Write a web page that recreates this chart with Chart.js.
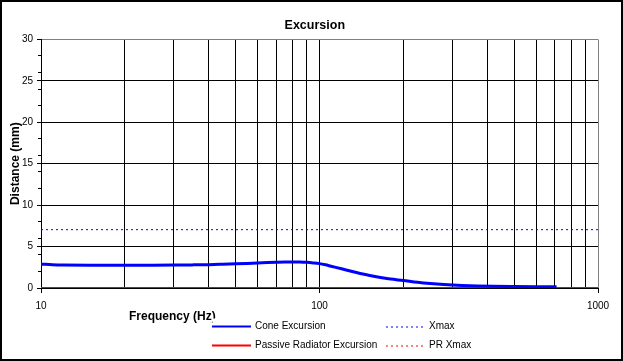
<!DOCTYPE html>
<html>
<head>
<meta charset="utf-8">
<script src="https://cdn.jsdelivr.net/npm/chart.js@4/dist/chart.umd.min.js"></script>
<style>
  body { margin: 0; background: #fff; }
  canvas { display: block; }
</style>
</head>
<body>
<canvas id="Excursion-graphic" width="623" height="361"></canvas>
<script>
// data
const coneFreq = [10, 11, 12, 15, 20, 25, 30, 35, 40, 45, 50, 55, 60, 65, 70, 75, 80, 85, 90, 95,
                  100, 105, 110, 120, 130, 140, 150, 160, 170, 180, 200, 225, 250, 280, 325, 370, 420, 500, 600, 710];
const coneMm = [2.88, 2.8, 2.77, 2.76, 2.76, 2.76, 2.77, 2.79, 2.82, 2.87, 2.92, 2.97, 3.02, 3.07, 3.11, 3.14, 3.15, 3.14, 3.1, 3.03,
                2.94, 2.8, 2.63, 2.32, 2.02, 1.76, 1.55, 1.36, 1.2, 1.08, 0.9, 0.68, 0.53, 0.41, 0.3, 0.24, 0.2, 0.17, 0.15, 0.14];
const prFreq = [10, 1000];
const prMm = [0, 0];
const xmaxFreq = [10, 1000];
const xmaxMm = [7.04, 7.04];
const prXmaxFreq = [10, 1000];
const prXmaxMm = [0, 0];

const xGridTicks = [10, 20, 30, 40, 50, 60, 70, 80, 90, 100, 200, 300, 400, 500, 600, 700, 800, 900, 1000];
const xTickLabels = [10, 100, 1000];

const toPoints = (xs, ys) => xs.map((x, i) => ({ x: x, y: ys[i] }));

Chart.defaults.font.family = '"Liberation Sans", Arial, sans-serif';
Chart.defaults.color = '#000';

// frame, x axis title and the two-column legend
const extras = {
  id: 'extras',
  afterDraw(chart) {
    const ctx = chart.ctx;
    ctx.save();
    ctx.font = 'bold 12px "Liberation Sans", Arial, sans-serif';
    ctx.fillStyle = '#000';
    ctx.textAlign = 'left';
    ctx.textBaseline = 'middle';
    ctx.fillText('Frequency (Hz)', 129, 316.5);

    // legend box covers the end of the title, like the original
    ctx.fillStyle = '#fff';
    ctx.fillRect(212.5, 318.5, 330, 37);

    const cols = [212, 386];
    const rows = [326.5, 345.5];
    ctx.font = '10px "Liberation Sans", Arial, sans-serif';
    chart.data.datasets.forEach((ds, i) => {
      const x = cols[Math.floor(i / 2)];
      const y = rows[i % 2];
      ctx.beginPath();
      ctx.strokeStyle = ds.borderColor;
      ctx.lineWidth = ds.borderDash ? 1 : 2;
      ctx.setLineDash(ds.borderDash || []);
      ctx.moveTo(x, ds.borderDash ? y + 0.5 : y);
      ctx.lineTo(x + 39, ds.borderDash ? y + 0.5 : y);
      ctx.stroke();
      ctx.setLineDash([]);
      ctx.fillStyle = '#000';
      ctx.fillText(ds.label, x + 43, y);
    });

    ctx.strokeStyle = '#000';
    ctx.lineWidth = 2;
    ctx.strokeRect(1, 1, 621, 359);
    ctx.restore();
  }
};

new Chart(document.getElementById('Excursion-graphic'), {
  type: 'line',
  data: {
    datasets: [
      {
        label: 'Cone Excursion',
        data: toPoints(coneFreq, coneMm),
        borderColor: '#0000ff',
        borderWidth: 3,
        cubicInterpolationMode: 'monotone',
        order: 1
      },
      {
        label: 'Passive Radiator Excursion',
        data: toPoints(prFreq, prMm),
        borderColor: '#ff0000',
        borderWidth: 2,
        order: 2
      },
      {
        label: 'Xmax',
        data: toPoints(xmaxFreq, xmaxMm),
        borderColor: '#0000ff',
        borderWidth: 1,
        borderDash: [2, 3],
        order: 3
      },
      {
        label: 'PR Xmax',
        data: toPoints(prXmaxFreq, prXmaxMm),
        borderColor: '#ff0000',
        borderWidth: 1,
        borderDash: [2, 3],
        order: 4
      }
    ]
  },
  options: {
    responsive: false,
    animation: false,
    devicePixelRatio: 1,
    layout: { padding: { left: 6.6, right: 0, top: 0, bottom: 0 } },
    elements: { point: { radius: 0 } },
    plugins: {
      legend: { display: false },
      tooltip: { enabled: false },
      title: {
        display: true,
        text: 'Excursion',
        color: '#000',
        font: { size: 12.5, weight: 'bold' },
        padding: { top: 18, bottom: 6.4 }
      }
    },
    scales: {
      x: {
        type: 'logarithmic',
        min: 10,
        max: 1000,
        afterBuildTicks: (s) => { s.ticks = xGridTicks.map(v => ({ value: v })); },
        afterFit: (s) => { s.height = 73; },
        ticks: {
          autoSkip: false,
          maxRotation: 0,
          padding: 7,
          font: { size: 10 },
          callback: (v) => xTickLabels.includes(v) ? String(v) : ''
        },
        grid: {
          color: (c) => c.tick && c.tick.value === 1000 ? '#808080' : '#000',
          tickColor: (c) => c.tick && xTickLabels.includes(c.tick.value) ? '#000' : 'rgba(0,0,0,0)',
          tickLength: 5
        },
        border: { color: '#000' }
      },
      y: {
        position: 'left',
        weight: 1,
        min: 0,
        max: 30,
        afterFit: (s) => { s.width = 34.4; },
        ticks: { stepSize: 5, padding: 4, font: { size: 10 } },
        grid: {
          color: (c) => c.tick && c.tick.value === 30 ? '#808080' : '#000',
          tickColor: '#000',
          tickLength: 4
        },
        border: { color: '#000' },
        title: {
          display: true,
          text: 'Distance (mm)',
          color: '#000',
          font: { size: 12, weight: 'bold' },
          padding: { top: 2.2, bottom: 0 }
        }
      },
      yMinor: {
        position: 'left',
        weight: 0,
        min: 0,
        max: 30,
        afterFit: (s) => { s.width = 0; },
        ticks: { display: false, stepSize: 2 },
        grid: { drawOnChartArea: false, tickColor: '#000', tickLength: 3 },
        border: { display: false }
      },
      yRight: {
        position: 'right',
        afterFit: (s) => { s.width = 25; },
        ticks: { display: false },
        grid: { display: false },
        border: { display: false }
      }
    }
  },
  plugins: [extras]
});
</script>
</body>
</html>
